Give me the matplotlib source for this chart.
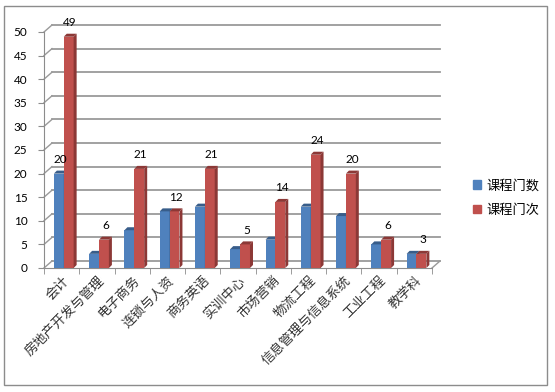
import numpy as np
import matplotlib
matplotlib.use('Agg')
import matplotlib.pyplot as plt
from matplotlib.patches import Polygon, Rectangle

plt.rcParams['font.family'] = ['Lato', 'Noto Sans CJK SC', 'DejaVu Sans']

# %% data
categories = ['会计', '房地产开发与管理', '电子商务', '连锁与人资', '商务英语', '实训中心',
              '市场营销', '物流工程', '信息管理与信息系统', '工业工程', '教学科']
course_count = [20, 3, 8, 12, 13, 4, 6, 13, 11, 5, 3]      # 课程门数
course_times = [49, 6, 21, 12, 21, 5, 14, 24, 20, 6, 3]    # 课程门次
series_names = ['课程门数', '课程门次']
y_ticks = [0, 5, 10, 15, 20, 25, 30, 35, 40, 45, 50]

blue, blue_side = '#4F81BD', '#385D8A'
red, red_side = '#C0504D', '#8C3836'

fig = plt.figure(figsize=(5.55, 3.92), dpi=100)
fig.patches.append(Rectangle((4 / 555, 7 / 392), 543 / 555, 379 / 392, transform=fig.transFigure,
                             fill=False, edgecolor='#8C8C8C', linewidth=1.0))
ax = fig.add_axes([44 / 555, 124 / 392, 388 / 555, 236 / 392])
ax.set_xlim(-0.5, len(categories) - 0.5)
ax.set_ylim(0, 50)
ax.patch.set_visible(False)

# pixel -> data sizes for the fake 3d
px_x = len(categories) / 388.0
px_y = 50 / 236.0
wdx, wdy = 8 * px_x, 7 * px_y      # back wall offset
bdx, bdy = 3 * px_x, 3 * px_y      # bar depth

# back wall grid + connectors
for t in y_ticks:
    ax.plot([-0.5 + wdx, len(categories) - 0.5 + wdx], [t + wdy, t + wdy],
            color='#9A9A9A', lw=1.3, clip_on=False, zorder=0)
    ax.plot([-0.5, -0.5 + wdx], [t, t + wdy], color='#9A9A9A', lw=1.0, clip_on=False, zorder=0)
ax.plot([len(categories) - 0.5, len(categories) - 0.5 + wdx], [0, wdy],
        color='#9A9A9A', lw=1.0, clip_on=False, zorder=0)

x = np.arange(len(categories))
w = 0.28


def bars3d(xs, vals, face, side):
    ax.bar(xs, vals, width=w, color=face, zorder=3)
    for xi, v in zip(xs, vals):
        r = xi + w / 2
        l = xi - w / 2
        ax.add_patch(Polygon([(r, 0), (r + bdx, bdy), (r + bdx, v + bdy), (r, v)],
                             closed=True, facecolor=side, edgecolor='none', zorder=3))
        ax.add_patch(Polygon([(l, v), (l + bdx, v + bdy), (r + bdx, v + bdy), (r, v)],
                             closed=True, facecolor=side, edgecolor='none', zorder=3))


bars3d(x - 0.08, course_count, blue, blue_side)
bars3d(x + 0.20, course_times, red, red_side)

# data labels
for xi, v in zip(x + 0.20, course_times):
    ax.annotate(str(v), (xi + bdx / 2, v + bdy), xytext=(0, 4), textcoords='offset points',
                ha='center', va='bottom', fontsize=8.5, clip_on=False)
ax.annotate(str(course_count[0]), (x[0] - 0.08 + bdx / 2, course_count[0] + bdy), xytext=(0, 4),
            textcoords='offset points', ha='center', va='bottom', fontsize=8.5)

# axes
for s in ['top', 'right']:
    ax.spines[s].set_visible(False)
for s in ['left', 'bottom']:
    ax.spines[s].set_color('#8C8C8C')
ax.set_yticks(y_ticks)
ax.tick_params(axis='y', direction='out', length=4, color='#8C8C8C', pad=8, labelsize=8.5)
ax.set_xticks(x)
ax.set_xticks(np.arange(-0.5, len(categories)), minor=True)
ax.tick_params(axis='x', which='major', length=0, pad=4)
ax.tick_params(axis='x', which='minor', direction='out', length=4, color='#8C8C8C')
ax.set_xticklabels(categories, rotation=45, ha='right', va='top', rotation_mode='anchor',
                   fontsize=9.5, color='#333333')

# legend
ax.legend([Rectangle((0, 0), 1, 1, color=blue), Rectangle((0, 0), 1, 1, color=red)], series_names,
          loc='center left', bbox_to_anchor=(461 / 555, 195 / 392), bbox_transform=fig.transFigure,
          frameon=False, fontsize=9.5, handlelength=0.6, handleheight=0.6, handletextpad=0.4,
          labelspacing=0.9)

plt.savefig('out.png', dpi=100)
plt.close()
